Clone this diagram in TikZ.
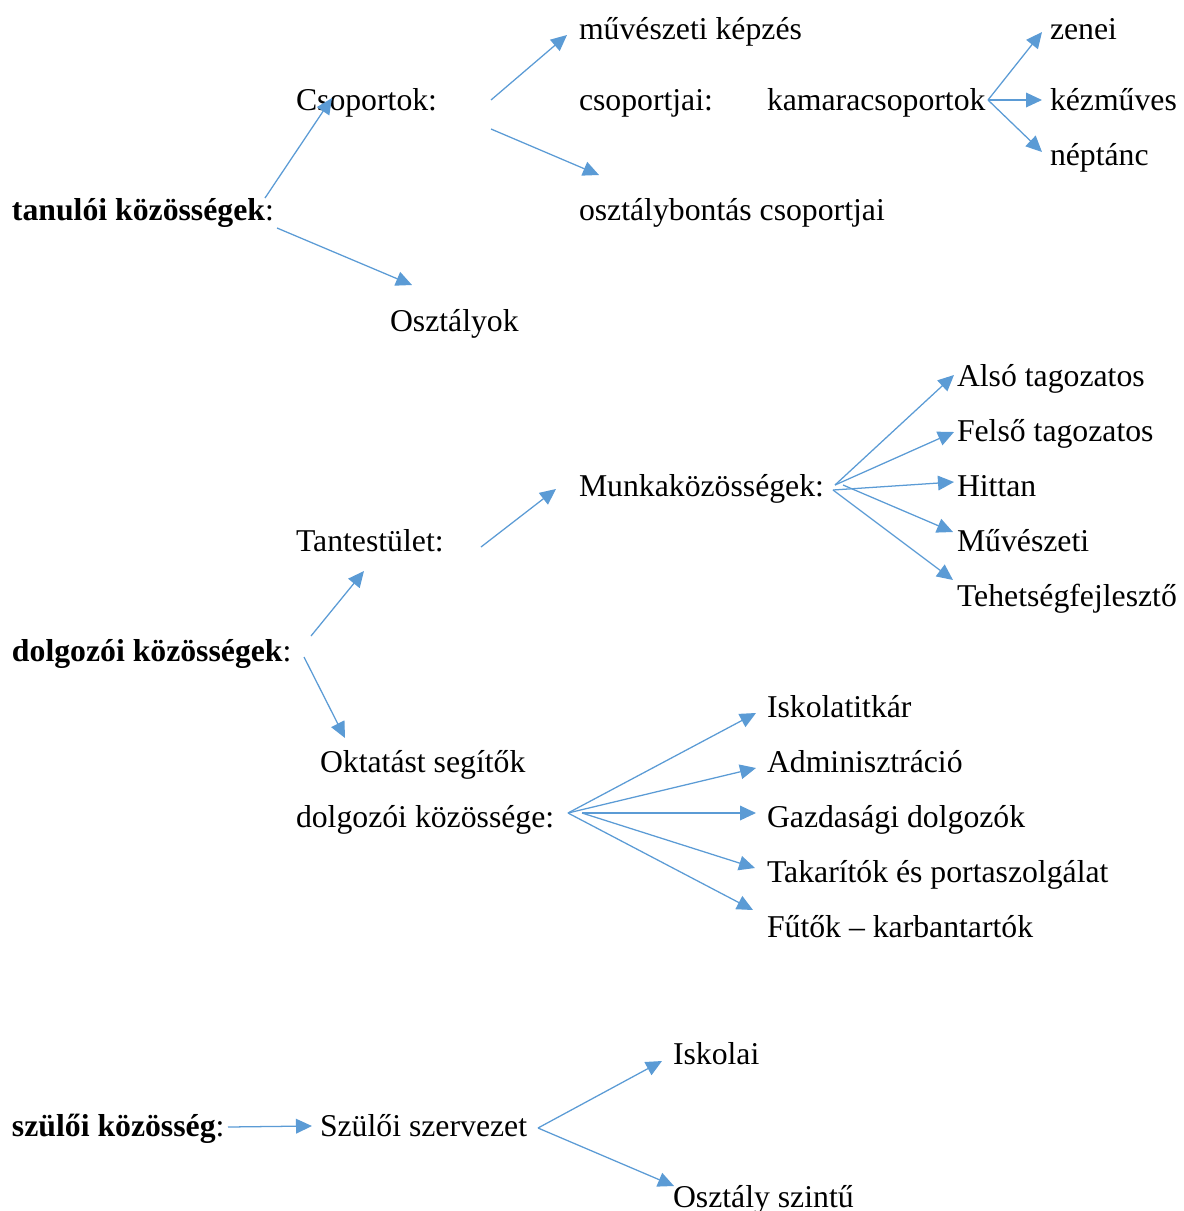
\documentclass[tikz,border=0pt]{standalone}
\usepackage{fontspec}
\setmainfont{Liberation Serif}
\usetikzlibrary{arrows.meta}
\definecolor{arrblue}{HTML}{5B9BD5}
\tikzset{
  lbl/.style={anchor=base west, inner sep=0pt, outer sep=0pt, font=\fontsize{23.8}{28}\selectfont, text=black},
  arr/.style={draw=arrblue, line width=0.95pt, -{Triangle[length=12pt,width=11pt]}}
}
\begin{document}
\begin{tikzpicture}[x=0.75pt,y=-0.75pt]
\useasboundingbox (0,0) rectangle (1184,1211);
% --- tanulói közösségek
\node[lbl] (tan) at (12,220) {\textbf{tanulói közösségek}:};
\node[lbl] (csop) at (296,110) {Csoportok:};
\node[lbl] (muv) at (579,39) {művészeti képzés};
\node[lbl] (csopj) at (579,110) {csoportjai:};
\node[lbl] (kam) at (767,110) {kamaracsoportok};
\node[lbl] (zen) at (1050,39) {zenei};
\node[lbl] (kez) at (1050,110) {kézműves};
\node[lbl] (nep) at (1050,165) {néptánc};
\node[lbl] (obc) at (579,220) {osztálybontás csoportjai};
\node[lbl] (oszt) at (390,331) {Osztályok};
% --- dolgozói közösségek
\node[lbl] (dolg) at (12,661) {\textbf{dolgozói közösségek}:};
\node[lbl] (tant) at (296,551) {Tantestület:};
\node[lbl] (mk) at (579,496) {Munkaközösségek:};
\node[lbl] (also) at (957,386) {Alsó tagozatos};
\node[lbl] (felso) at (957,441) {Felső tagozatos};
\node[lbl] (hit) at (957,496) {Hittan};
\node[lbl] (muvsz) at (957,551) {Művészeti};
\node[lbl] (teh) at (957,606) {Tehetségfejlesztő};
\node[lbl] (okt) at (320,772) {Oktatást segítők};
\node[lbl] (okt2) at (296,827) {dolgozói közössége:};
\node[lbl] (isk) at (767,717) {Iskolatitkár};
\node[lbl] (adm) at (767,772) {Adminisztráció};
\node[lbl] (gazd) at (767,827) {Gazdasági dolgozók};
\node[lbl] (tak) at (767,882) {Takarítók és portaszolgálat};
\node[lbl] (fut) at (767,937) {Fűtők – karbantartók};
% --- szülői közösség
\node[lbl] (szk) at (12,1136) {\textbf{szülői közösség}:};
\node[lbl] (szsz) at (320,1136) {Szülői szervezet};
\node[lbl] (iskl) at (673,1064) {Iskolai};
\node[lbl] (oszi) at (673,1207) {Osztály szintű};
% --- connector end points
\coordinate (tanA) at (265,198);
\coordinate (csopT) at (332,98);
\coordinate (tanB) at (277,228);
\coordinate (osztT) at (412,285);
\coordinate (csopA) at (491,100);
\coordinate (muvT) at (567,35);
\coordinate (csopB) at (491,129);
\coordinate (obcT) at (599,175);
\coordinate (kamE) at (988,100);
\coordinate (zenT) at (1042,32);
\coordinate (kezT) at (1042,100);
\coordinate (nepT) at (1042,152);
\coordinate (dolgA) at (311,636);
\coordinate (tantT) at (364,571);
\coordinate (dolgB) at (304,657);
\coordinate (oktT) at (345,738);
\coordinate (tantE) at (481,547);
\coordinate (mkT) at (556,489);
\coordinate (mkA) at (835,485);
\coordinate (mkB) at (833,490);
\coordinate (mkC) at (843,485);
\coordinate (alsoT) at (954,375);
\coordinate (felsoT) at (954,432);
\coordinate (hitT) at (954,482);
\coordinate (muvszT) at (953,532);
\coordinate (tehT) at (953,580);
\coordinate (oktA) at (568,813);
\coordinate (oktB) at (582,813);
\coordinate (iskT) at (756,713);
\coordinate (admT) at (756,768);
\coordinate (gazdT) at (756,813);
\coordinate (takT) at (755,868);
\coordinate (futT) at (753,910);
\coordinate (szkE) at (228,1127);
\coordinate (szszT) at (312,1126);
\coordinate (szszE) at (538,1128);
\coordinate (isklT) at (662,1061);
\coordinate (osziT) at (674,1186);
% --- connectors
\draw[arr] (tanA) -- (csopT);
\draw[arr] (tanB) -- (osztT);
\draw[arr] (csopA) -- (muvT);
\draw[arr] (csopB) -- (obcT);
\draw[arr] (kamE) -- (zenT);
\draw[arr] (kamE) -- (kezT);
\draw[arr] (kamE) -- (nepT);
\draw[arr] (dolgA) -- (tantT);
\draw[arr] (dolgB) -- (oktT);
\draw[arr] (tantE) -- (mkT);
\draw[arr] (mkA) -- (alsoT);
\draw[arr] (mkA) -- (felsoT);
\draw[arr] (mkB) -- (hitT);
\draw[arr] (mkC) -- (muvszT);
\draw[arr] (mkB) -- (tehT);
\draw[arr] (oktA) -- (iskT);
\draw[arr] (oktA) -- (admT);
\draw[arr] (oktB) -- (gazdT);
\draw[arr] (oktB) -- (takT);
\draw[arr] (oktA) -- (futT);
\draw[arr] (szkE) -- (szszT);
\draw[arr] (szszE) -- (isklT);
\draw[arr] (szszE) -- (osziT);
\end{tikzpicture}
\end{document}
